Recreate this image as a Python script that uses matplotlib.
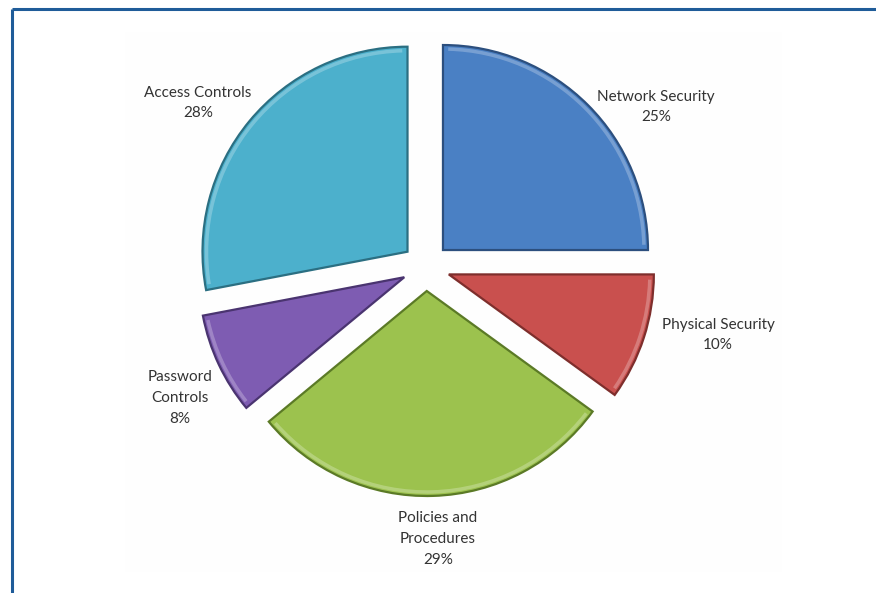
import matplotlib.pyplot as plt
import matplotlib.patches as mpatches

# data
labels = ['Network Security', 'Physical Security', 'Policies and\nProcedures',
          'Password\nControls', 'Access Controls']
shares = [25, 10, 29, 8, 28]
colors = ['#4a80c4', '#c9504e', '#9cc24e', '#7e5cb2', '#4cb0cc']
edges = ['#2c4f7e', '#7e2e2c', '#5b7a26', '#4a3470', '#2b6f82']
# label anchor points (pixels, y from top)
label_xy = [(656, 107), (718, 335), (438, 539), (180, 398), (198, 103)]

W, H = 876, 593
fig = plt.figure(figsize=(W / 100, H / 100), dpi=100)
ax = fig.add_axes([0, 0, 1, 1])

# faint plot area
ax.add_patch(mpatches.Rectangle((125, H - 572), 657, 540, facecolor='#fefefe',
                                edgecolor='none', zorder=0))

cx, cy, r = 426, H - 267, 205
wedges, _ = ax.pie(shares, startangle=90, counterclock=False, radius=r,
                   center=(cx, cy), explode=[24] * len(shares),
                   colors=colors, frame=True,
                   wedgeprops=dict(linewidth=1.6))
for w, ec in zip(wedges, edges):
    w.set_edgecolor(ec)
    w.set_zorder(2)
    # light bevel along the outer rim
    hl = mpatches.Arc(w.center, 2 * (r - 4), 2 * (r - 4),
                      theta1=w.theta1 + 1.5, theta2=w.theta2 - 1.5,
                      color='white', alpha=0.25, lw=2.5, zorder=3)
    ax.add_patch(hl)

ax.set_xlim(0, W)
ax.set_ylim(0, H)
ax.set_aspect('auto')
ax.axis('off')

for lab, s, (x, y) in zip(labels, shares, label_xy):
    ax.text(x, H - y, f'{lab}\n{s}%', ha='center', va='center',
            fontsize=11, family='Lato', color='#333333', linespacing=1.6,
            zorder=4)

# blue frame (top and left)
ax.plot([12, W], [H - 9, H - 9], color='#1f5c99', lw=2.2, solid_capstyle='butt')
ax.plot([12, 12], [H - 9, 0], color='#1f5c99', lw=2.2, solid_capstyle='butt')

fig.savefig('out.png', dpi=100)
